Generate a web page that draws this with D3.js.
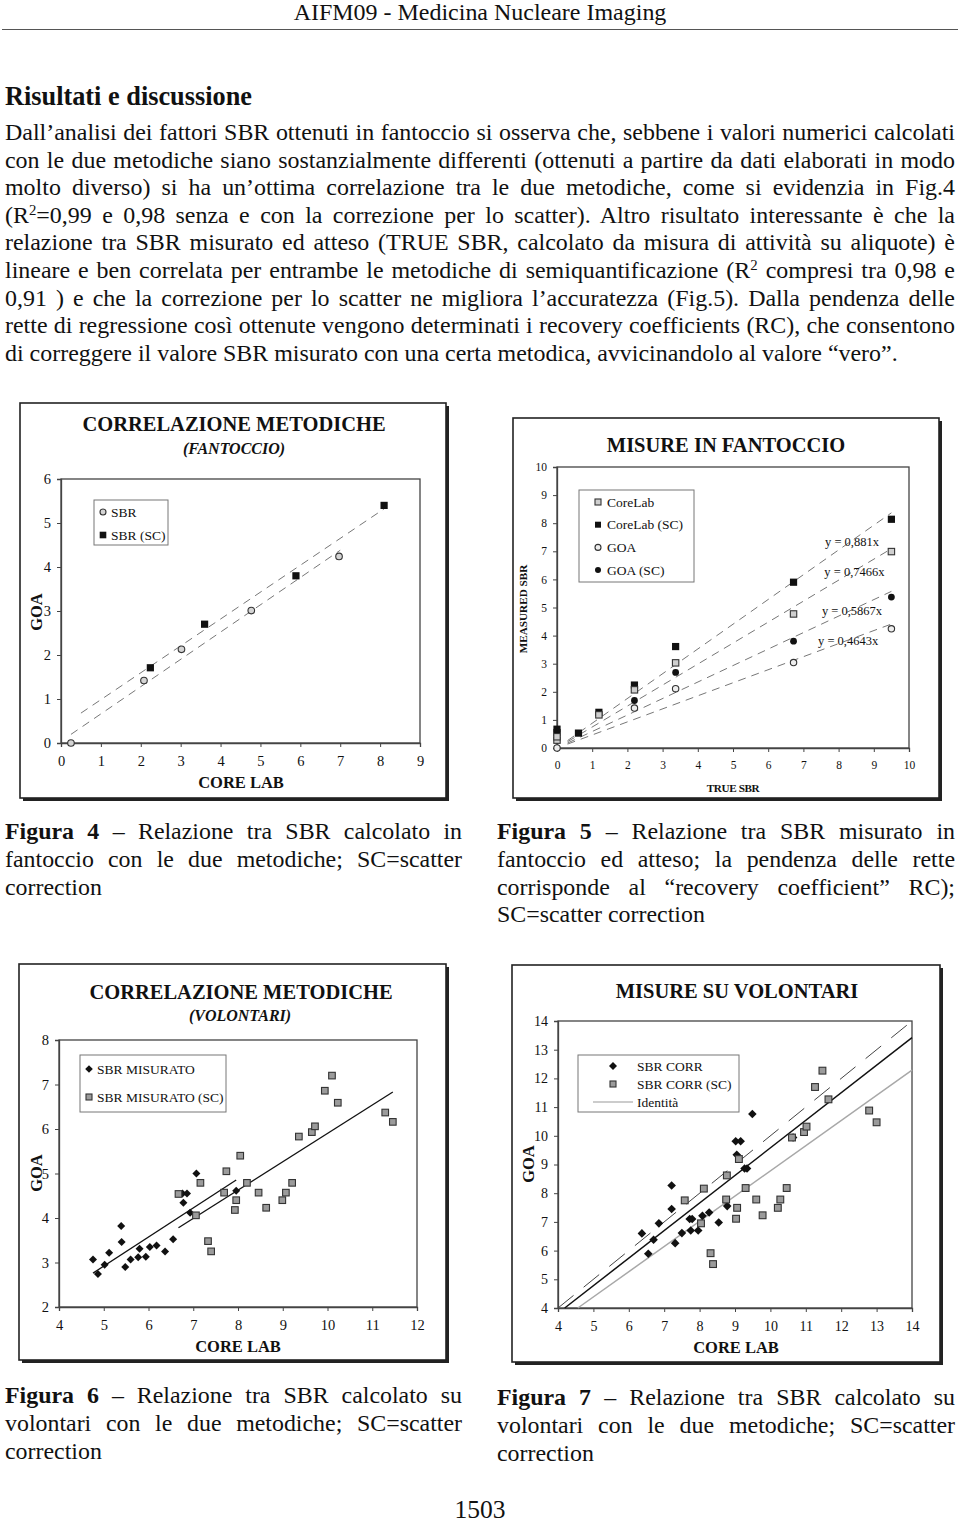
<!DOCTYPE html>
<html><head><meta charset="utf-8">
<script src="https://cdn.jsdelivr.net/npm/d3@7"></script>
<style>
body{margin:0;background:#fff}
svg{display:block}
text{font-family:"Liberation Serif","Times New Roman",serif;fill:#111}
</style></head>
<body><svg id="page" width="960" height="1523"></svg>
<script>
// ---------------- DATA ----------------
const headerText = "AIFM09 - Medicina Nucleare Imaging";
const sectionTitle = "Risultati e discussione";
const paragraphLines = [
  "Dall’analisi dei fattori SBR ottenuti in fantoccio si osserva che, sebbene i valori numerici calcolati",
  "con le due metodiche siano sostanzialmente differenti (ottenuti a partire da dati elaborati in modo",
  "molto diverso) si ha un’ottima correlazione tra le due metodiche, come si evidenzia in Fig.4",
  "(R^2=0,99 e 0,98 senza e con la correzione per lo scatter). Altro risultato interessante è che la",
  "relazione tra SBR misurato ed atteso (TRUE SBR, calcolato da misura di attività su aliquote) è",
  "lineare e ben correlata per entrambe le metodiche di semiquantificazione (R^2 compresi tra 0,98 e",
  "0,91 ) e che la correzione per lo scatter ne migliora l’accuratezza (Fig.5). Dalla pendenza delle",
  "rette di regressione così ottenute vengono determinati i recovery coefficients (RC), che consentono",
  "di correggere il valore SBR misurato con una certa metodica, avvicinandolo al valore “vero”."
];
const captionFig4 = ["Figura 4", " – Relazione tra SBR calcolato in", "fantoccio con le due metodiche; SC=scatter", "correction"];
const captionFig5 = ["Figura 5", " – Relazione tra SBR misurato in", "fantoccio ed atteso; la pendenza delle rette", "corrisponde al “recovery coefficient” RC);", "SC=scatter correction"];
const captionFig6 = ["Figura 6", " – Relazione tra SBR calcolato su", "volontari con le due metodiche; SC=scatter", "correction"];
const captionFig7 = ["Figura 7", " – Relazione tra SBR calcolato su", "volontari con le due metodiche; SC=scatter", "correction"];
const pageNumber = "1503";

// Fig 4 – Correlazione metodiche (fantoccio)
const fig4Ticks = {x: [0,1,2,3,4,5,6,7,8,9], y: [0,1,2,3,4,5,6]};
const fig4SBR   = [[0.25,0],[2.08,1.42],[3.02,2.13],[4.77,3.01],[6.97,4.24]];
const fig4SBRSC = [[2.24,1.71],[3.60,2.70],[5.89,3.80],[8.10,5.40]];
const fig4FitRange = {sbr: [0.25, 7.0], sc: [0.5, 8.1]};
const fig4Legend = ["SBR", "SBR (SC)"];

// Fig 5 – Misure in fantoccio
const fig5Ticks = {x: [0,1,2,3,4,5,6,7,8,9,10], y: [0,1,2,3,4,5,6,7,8,9,10]};
const fig5CoreLab   = [[0,0.28],[0,0.40],[1.19,1.18],[2.20,2.07],[3.37,3.03],[6.72,4.77],[9.50,6.99]];
const fig5CoreLabSC = [[0,0.55],[0,0.67],[0.61,0.53],[1.19,1.27],[2.20,2.24],[3.37,3.61],[6.72,5.90],[9.50,8.14]];
const fig5GOA       = [[0,0],[2.20,1.42],[3.37,2.11],[6.72,3.04],[9.50,4.24]];
const fig5GOASC     = [[2.20,1.69],[3.37,2.69],[6.72,3.80],[9.50,5.37]];
const fig5Slopes = [0.881, 0.7466, 0.5867, 0.4643];
const fig5SlopeLabels = ["y = 0,881x", "y = 0,7466x", "y = 0,5867x", "y = 0,4643x"];
const fig5FitRange = [0.3, 9.5];
const fig5Legend = ["CoreLab", "CoreLab (SC)", "GOA", "GOA (SC)"];

// Fig 6 – Correlazione metodiche (volontari)
const fig6Ticks = {x: [4,5,6,7,8,9,10,11,12], y: [2,3,4,5,6,7,8]};
const fig6SBR = [[4.76,3.07],[4.87,2.74],[5.02,2.95],[5.12,3.22],[5.39,3.82],[5.40,3.46],[5.48,2.90],
  [5.60,3.07],[5.77,3.12],[5.80,3.31],[5.94,3.13],[6.03,3.35],[6.18,3.38],[6.37,3.25],[6.55,3.52],
  [6.76,4.55],[6.78,4.34],[6.86,4.55],[6.93,4.12],[7.07,5.00],[7.96,4.61]];
const fig6SBRSC = [[6.67,4.54],[7.06,4.06],[7.16,4.79],[7.33,3.48],[7.40,3.25],[7.69,4.57],[7.74,5.05],
  [7.93,4.18],[7.96,4.40],[8.05,5.40],[8.20,4.79],[8.46,4.57],[8.63,4.23],[8.99,4.40],[9.07,4.57],
  [9.21,4.79],[9.36,5.83],[9.65,5.93],[9.72,6.06],[9.94,6.86],[10.10,7.20],[10.23,6.59],[11.29,6.37],[11.46,6.16]];
const fig6Legend = ["SBR MISURATO", "SBR MISURATO (SC)"];

// Fig 7 – Misure su volontari
const fig7Ticks = {x: [4,5,6,7,8,9,10,11,12,13,14], y: [4,5,6,7,8,9,10,11,12,13,14]};
const fig7Corr = [[6.37,6.60],[6.55,5.89],[6.70,6.38],[6.85,6.95],[7.21,8.27],[7.21,7.45],[7.31,6.26],
  [7.50,6.61],[7.72,7.10],[7.75,6.70],[7.79,7.10],[7.96,6.70],[8.08,7.21],[8.27,7.33],[8.54,6.98],
  [8.78,7.55],[9.02,9.81],[9.05,9.34],[9.16,9.81],[9.27,8.86],[9.34,8.86],[9.49,10.76],[10.64,9.94]];
const fig7CorrSC = [[7.58,7.75],[8.04,6.95],[8.12,8.16],[8.31,5.91],[8.38,5.53],[8.75,7.78],[8.77,8.62],
  [9.03,7.11],[9.06,7.49],[9.11,9.19],[9.30,8.18],[9.60,7.78],[9.78,7.23],[10.21,7.49],[10.28,7.78],
  [10.46,8.18],[10.61,9.94],[10.95,10.13],[11.02,10.32],[11.26,11.70],[11.47,12.27],[11.64,11.27],
  [12.79,10.88],[13.00,10.47]];
const fig7Lines = [
  {kind: "dashed", from: [4, 4],    to: [14.12, 14.12]},
  {kind: "black",  from: [4.19, 4], to: [14, 13.42]},
  {kind: "grey",   from: [4.56, 4], to: [14, 12.29]}
];
const fig7Legend = ["SBR CORR", "SBR CORR (SC)", "Identità"];

// ---------------- HELPERS ----------------
const svg = d3.select("#page");

function fitFont(sel, width) {
  const fs = parseFloat(sel.attr("font-size"));
  const w = sel.node().getComputedTextLength();
  sel.attr("font-size", fs * width / w);
}
function addRich(sel, str) {
  const parts = str.split("^2");
  parts.forEach((p, i) => {
    if (i > 0) {
      sel.append("tspan").attr("font-size", "0.62em").attr("dy", "-0.55em").text("2");
      sel.append("tspan").attr("dy", "0.34em").text(p);
    } else sel.append("tspan").text(p);
  });
}
function justify(sel, width) {
  const txt = sel.text();
  const n = (txt.match(/ /g) || []).length;
  const w = sel.node().getComputedTextLength();
  if (n > 0) sel.attr("word-spacing", (width - w) / n);
}
function linreg(pts) {
  const mx = d3.mean(pts, d => d[0]), my = d3.mean(pts, d => d[1]);
  const sxy = d3.sum(pts, d => (d[0]-mx)*(d[1]-my)), sxx = d3.sum(pts, d => (d[0]-mx)**2);
  const b = sxy / sxx; return {b, a: my - b*mx};
}

// ---------------- TEXT ----------------
const hdr = svg.append("text").attr("x", 480).attr("y", 20).attr("text-anchor", "middle")
  .attr("font-size", 20).text(headerText);
fitFont(hdr, 373);
svg.append("line").attr("x1", 2).attr("x2", 958).attr("y1", 29.5).attr("y2", 29.5).attr("stroke", "#555").attr("stroke-width", 1);

const st = svg.append("text").attr("x", 5).attr("y", 105).attr("font-size", 20).attr("font-weight", "bold").text(sectionTitle);
fitFont(st, 247);

// paragraph
{
  const probe = svg.append("text").attr("font-size", 20).text(paragraphLines[paragraphLines.length-1]);
  const fs = 20 * 893 / probe.node().getComputedTextLength();
  probe.remove();
  paragraphLines.forEach((line, i) => {
    const t = svg.append("text").attr("x", 5).attr("y", 140 + i * 27.6).attr("font-size", fs);
    addRich(t, line);
    if (i < paragraphLines.length - 1) justify(t, 950);
  });
}

// captions
function caption(lines, x, y0, width, fs) {
  lines.slice(1).forEach((line, i) => {
    const t = svg.append("text").attr("x", x).attr("y", y0 + i * 27.8).attr("font-size", fs);
    if (i === 0) {
      t.append("tspan").attr("font-weight", "bold").text(lines[0]);
      t.append("tspan").text(line);
    } else t.text(line);
    if (i < lines.length - 2) justify(t, width);
  });
}
let capFs;
{
  const probe = svg.append("text").attr("font-size", 20).text(captionFig5[captionFig5.length-1]);
  capFs = 20 * 208 / probe.node().getComputedTextLength();
  probe.remove();
}
caption(captionFig4, 5, 839, 457, capFs);
caption(captionFig5, 497, 839, 458, capFs);
caption(captionFig6, 5, 1403, 457, capFs);
caption(captionFig7, 497, 1405, 458, capFs);

const pn = svg.append("text").attr("x", 480).attr("y", 1518).attr("text-anchor", "middle").attr("font-size", 24).text(pageNumber);
fitFont(pn, 51);

// ---------------- CHARTS ----------------
function frame(box) {
  svg.append("rect").attr("x", box.x + 3).attr("y", box.y + 3).attr("width", box.w).attr("height", box.h).attr("fill", "#222");
  svg.append("rect").attr("x", box.x).attr("y", box.y).attr("width", box.w).attr("height", box.h)
    .attr("fill", "#fff").attr("stroke", "#222").attr("stroke-width", 1.6);
}
function axes(cfg) {
  const x = d3.scaleLinear().domain(cfg.xd).range([cfg.p.l, cfg.p.r]);
  const y = d3.scaleLinear().domain(cfg.yd).range([cfg.p.b, cfg.p.t]);
  svg.append("rect").attr("x", cfg.p.l).attr("y", cfg.p.t).attr("width", cfg.p.r - cfg.p.l).attr("height", cfg.p.b - cfg.p.t)
    .attr("fill", "none").attr("stroke", "#444").attr("stroke-width", 1.3);
  const gx = svg.append("g").attr("transform", `translate(0,${cfg.p.b})`)
    .call(d3.axisBottom(x).tickValues(cfg.xt).tickSize(4).tickPadding(cfg.xpad).tickFormat(d3.format("d")));
  const gy = svg.append("g").attr("transform", `translate(${cfg.p.l},0)`)
    .call(d3.axisLeft(y).tickValues(cfg.yt).tickSize(4).tickPadding(cfg.ypad).tickFormat(d3.format("d")));
  [gx, gy].forEach(g => {
    g.select(".domain").attr("stroke", "#444").attr("stroke-width", 1.3);
    g.selectAll(".tick line").attr("stroke", "#444");
    g.selectAll(".tick text").attr("font-family", "Liberation Serif").attr("font-size", cfg.tfs).attr("fill", "#222");
  });
  return {x, y};
}
function titleText(x, y, str, fs, italic) {
  return svg.append("text").attr("x", x).attr("y", y).attr("text-anchor", "middle")
    .attr("font-size", fs).attr("font-weight", "bold").attr("font-style", italic ? "italic" : null).text(str);
}
function yLabel(x, y, str, fs) {
  svg.append("text").attr("transform", `translate(${x},${y}) rotate(-90)`).attr("text-anchor", "middle")
    .attr("dominant-baseline", "central").attr("font-size", fs).attr("font-weight", "bold").text(str);
}
function legendBox(x0, y0, x1, y1) {
  svg.append("rect").attr("x", x0).attr("y", y0).attr("width", x1 - x0).attr("height", y1 - y0)
    .attr("fill", "#fff").attr("stroke", "#777").attr("stroke-width", 1);
}
function marker(g, kind, cx, cy, s) {
  if (kind === "circleLight") g.append("circle").attr("cx", cx).attr("cy", cy).attr("r", s).attr("fill", "#d4d4d4").attr("stroke", "#333").attr("stroke-width", 1.1);
  if (kind === "circleWhite") g.append("circle").attr("cx", cx).attr("cy", cy).attr("r", s).attr("fill", "#eee").attr("stroke", "#333").attr("stroke-width", 1.1);
  if (kind === "circleBlack") g.append("circle").attr("cx", cx).attr("cy", cy).attr("r", s).attr("fill", "#111");
  if (kind === "squareBlack") g.append("rect").attr("x", cx - s).attr("y", cy - s).attr("width", 2*s).attr("height", 2*s).attr("fill", "#111");
  if (kind === "squareLight") g.append("rect").attr("x", cx - s).attr("y", cy - s).attr("width", 2*s).attr("height", 2*s).attr("fill", "#cfcfcf").attr("stroke", "#333").attr("stroke-width", 1.1);
  if (kind === "squareGrey") g.append("rect").attr("x", cx - s).attr("y", cy - s).attr("width", 2*s).attr("height", 2*s).attr("fill", "#9b9b9b").attr("stroke", "#333").attr("stroke-width", 1.1);
  if (kind === "diamond") g.append("path").attr("d", `M${cx},${cy-s}L${cx+s},${cy}L${cx},${cy+s}L${cx-s},${cy}Z`).attr("fill", "#111");
}
function points(sc, data, kind, s) {
  const g = svg.append("g");
  data.forEach(d => marker(g, kind, sc.x(d[0]), sc.y(d[1]), s));
}
function seg(sc, x0, y0, x1, y1, stroke, width, dash) {
  svg.append("line").attr("x1", sc.x(x0)).attr("y1", sc.y(y0)).attr("x2", sc.x(x1)).attr("y2", sc.y(y1))
    .attr("stroke", stroke).attr("stroke-width", width).attr("stroke-dasharray", dash || null);
}

// ---- Fig 4
{
  frame({x: 20, y: 403, w: 426, h: 395});
  const sc = axes({xd: [0, 9], yd: [0, 6], p: {l: 61, r: 420, t: 479, b: 743}, xt: fig4Ticks.x, yt: fig4Ticks.y, tfs: 14.5, xpad: 9, ypad: 6});
  titleText(234, 431, "CORRELAZIONE METODICHE", 20.5, false);
  titleText(234, 454, "(FANTOCCIO)", 16, true);
  yLabel(36, 612, "GOA", 16.5);
  titleText(241, 788, "CORE LAB", 16.5, false);
  const f1 = linreg(fig4SBR), f2 = linreg(fig4SBRSC);
  seg(sc, fig4FitRange.sbr[0], f1.a + f1.b*fig4FitRange.sbr[0], fig4FitRange.sbr[1], f1.a + f1.b*fig4FitRange.sbr[1], "#777", 1, "8,6");
  seg(sc, fig4FitRange.sc[0], f2.a + f2.b*fig4FitRange.sc[0], fig4FitRange.sc[1], f2.a + f2.b*fig4FitRange.sc[1], "#777", 1, "8,6");
  points(sc, fig4SBR, "circleLight", 3.3);
  points(sc, fig4SBRSC, "squareBlack", 3.6);
  legendBox(94, 500, 168, 545);
  const lg = svg.append("g");
  marker(lg, "circleLight", 103, 512, 3); marker(lg, "squareBlack", 103, 535, 3.3);
  fig4Legend.forEach((t, i) => svg.append("text").attr("x", 111).attr("y", 512 + i*23).attr("dy", "0.35em").attr("font-size", 13.5).text(t));
}

// ---- Fig 5
{
  frame({x: 513, y: 418, w: 426, h: 380});
  const sc = axes({xd: [0, 10], yd: [0, 10], p: {l: 557, r: 909, t: 467, b: 748}, xt: fig5Ticks.x, yt: fig5Ticks.y, tfs: 11.5, xpad: 9, ypad: 6});
  titleText(726, 452, "MISURE IN FANTOCCIO", 20.5, false);
  yLabel(523, 609, "MEASURED SBR", 11.2);
  titleText(733, 792, "TRUE SBR", 11.2, false).attr("letter-spacing", -0.4);
  fig5Slopes.forEach((k, i) => {
    seg(sc, fig5FitRange[0], k*fig5FitRange[0], fig5FitRange[1], k*fig5FitRange[1], "#777", 1, "8,6");
  });
  points(sc, fig5CoreLabSC, "squareBlack", 3.6);
  points(sc, fig5CoreLab, "squareLight", 3.2);
  points(sc, fig5GOASC, "circleBlack", 3.4);
  points(sc, fig5GOA, "circleWhite", 3.2);
  fig5Slopes.forEach((k, i) => {
    const xc = [8.38, 8.45, 8.38, 8.27][i];
    svg.append("text").attr("x", sc.x(xc)).attr("y", sc.y(k*xc)).attr("dy", "0.4em").attr("text-anchor", "middle")
      .attr("font-size", 12.5).attr("fill", "#222").text(fig5SlopeLabels[i]);
  });
  legendBox(579, 490, 694, 582);
  const lg = svg.append("g");
  ["squareLight", "squareBlack", "circleWhite", "circleBlack"].forEach((k, i) => marker(lg, k, 598, 502 + i*22.7, 3));
  fig5Legend.forEach((t, i) => svg.append("text").attr("x", 607).attr("y", 502 + i*22.7).attr("dy", "0.35em").attr("font-size", 13.5).text(t));
}

// ---- Fig 6
{
  frame({x: 19, y: 964, w: 427, h: 396});
  const sc = axes({xd: [4, 12], yd: [2, 8], p: {l: 59, r: 417, t: 1040, b: 1307}, xt: fig6Ticks.x, yt: fig6Ticks.y, tfs: 14.5, xpad: 9, ypad: 6});
  titleText(241, 999, "CORRELAZIONE METODICHE", 20.5, false);
  titleText(240, 1021, "(VOLONTARI)", 16, true);
  yLabel(36, 1173, "GOA", 16.5);
  titleText(238, 1352, "CORE LAB", 16.5, false);
  [fig6SBR, fig6SBRSC].forEach(data => {
    const f = linreg(data); const [a, b] = d3.extent(data, d => d[0]);
    seg(sc, a, f.a + f.b*a, b, f.a + f.b*b, "#111", 1.3);
  });
  points(sc, fig6SBR, "diamond", 4);
  points(sc, fig6SBRSC, "squareGrey", 3.3);
  legendBox(80, 1055, 226, 1112);
  const lg = svg.append("g");
  marker(lg, "diamond", 89, 1069, 3.8); marker(lg, "squareGrey", 89, 1097, 3);
  fig6Legend.forEach((t, i) => svg.append("text").attr("x", 97).attr("y", 1069 + i*28).attr("dy", "0.35em").attr("font-size", 13.5).text(t));
}

// ---- Fig 7
{
  frame({x: 512, y: 965, w: 428, h: 397});
  const sc = axes({xd: [4, 14], yd: [4, 14], p: {l: 558, r: 912, t: 1021, b: 1308}, xt: fig7Ticks.x, yt: fig7Ticks.y, tfs: 14, xpad: 9, ypad: 6});
  titleText(737, 998, "MISURE SU VOLONTARI", 20.5, false);
  yLabel(528, 1164, "GOA", 16.5);
  titleText(736, 1353, "CORE LAB", 16.5, false);
  const style = {dashed: ["#444", 1, "20,13"], black: ["#111", 1.5, null], grey: ["#a8a8a8", 1.5, null]};
  fig7Lines.forEach(l => seg(sc, l.from[0], l.from[1], l.to[0], l.to[1], ...style[l.kind]));
  points(sc, fig7Corr, "diamond", 4.3);
  points(sc, fig7CorrSC, "squareGrey", 3.4);
  legendBox(578, 1055, 739, 1112);
  const lg = svg.append("g");
  marker(lg, "diamond", 613, 1066, 4); marker(lg, "squareGrey", 613, 1084, 3);
  lg.append("line").attr("x1", 593).attr("x2", 633).attr("y1", 1102).attr("y2", 1102).attr("stroke", "#999").attr("stroke-width", 1.2);
  fig7Legend.forEach((t, i) => svg.append("text").attr("x", 637).attr("y", 1066 + i*18).attr("dy", "0.35em").attr("font-size", 13.5).text(t));
}
</script></body></html>
